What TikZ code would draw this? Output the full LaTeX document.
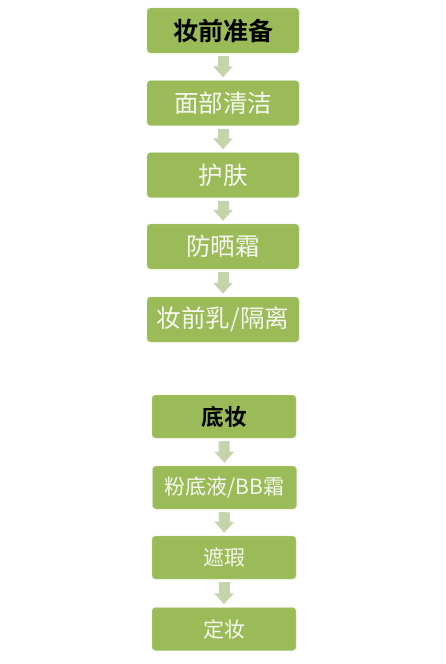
\documentclass[tikz,border=0pt]{standalone}
\usepackage{fontspec}
\setmainfont{Noto Sans CJK SC}
\newfontfamily\cjkbold{Noto Sans CJK SC Bold}
\usetikzlibrary{arrows.meta}
\definecolor{boxgreen}{HTML}{9BBB59}
\definecolor{arrowgreen}{HTML}{C6D4AC}
\definecolor{txtwhite}{HTML}{F7F7F0}
\tikzset{
  stepbox/.style={rectangle, rounded corners=3.5pt, fill=boxgreen, draw=boxgreen!60!white, line width=0.4pt,
    inner sep=0pt, text=txtwhite},
  topbox/.style={stepbox, minimum width=152pt, minimum height=45pt, font=\fontsize{24.5pt}{27pt}\selectfont},
  botbox/.style={stepbox, minimum width=144pt, minimum height=43pt, font=\fontsize{21pt}{24pt}\selectfont},
  boldtxt/.style={text=black, font=\fontsize{25pt}{28pt}\cjkbold},
  flowarrow/.style={draw=arrowgreen, line width=11pt, -{Triangle[width=19pt,length=11pt]}, shorten <=3pt, shorten >=3pt}
}
\begin{document}
\begin{tikzpicture}[x=1pt,y=-1pt]
\useasboundingbox[fill=white] (0,0) rectangle (446,664);
\node[topbox, boldtxt] (b1) at (223,30.5) {妆前准备};
\node[topbox] (b2) at (223,103) {面部清洁};
\node[topbox] (b3) at (223,175) {护肤};
\node[topbox] (b4) at (223,246.5) {防晒霜};
\node[topbox] (b5) at (223,319.5) {妆前乳/隔离};
\node[botbox, boldtxt, font=\fontsize{22.5pt}{26pt}\cjkbold] (b6) at (224,416.5) {底妆};
\node[botbox] (b7) at (224.5,487.5) {粉底液/BB霜};
\node[botbox] (b8) at (224,557.5) {遮瑕};
\node[botbox] (b9) at (224,629) {定妆};
\foreach \a/\b in {b1/b2,b2/b3,b3/b4,b4/b5,b6/b7,b7/b8,b8/b9}{
  \draw[flowarrow] (\a.south) -- (\b.north);
}
\end{tikzpicture}
\end{document}
